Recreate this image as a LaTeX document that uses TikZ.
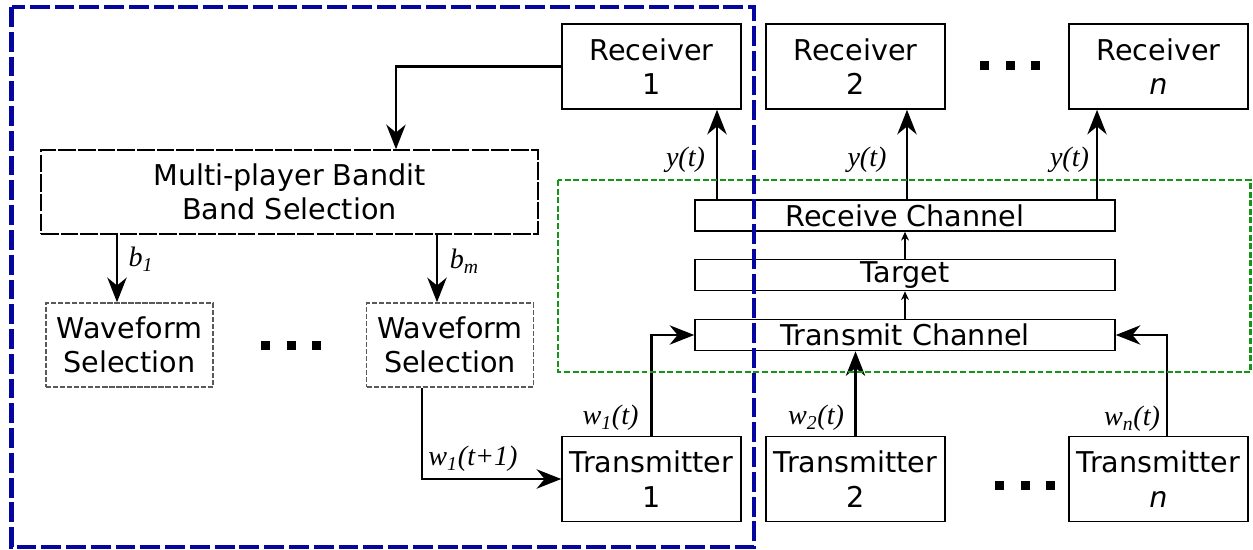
\documentclass[tikz,border=0pt]{standalone}
\usepackage{fontspec}
\setmainfont{DejaVu Sans}
\newfontfamily\lblfont{Liberation Serif}
\usepackage{tikz}
\usetikzlibrary{arrows.meta,positioning,calc}

\definecolor{regblue}{RGB}{5,5,160}
\definecolor{reggreen}{RGB}{20,150,20}

\tikzset{
  box/.style={draw=black, line width=0.9pt, minimum width=3.58cm, minimum height=1.7cm,
    align=center, inner sep=0pt, font=\fontsize{16.3}{19.5}\selectfont},
  chan/.style={box, minimum width=8.4cm, minimum height=0.62cm},
  selbox/.style={box, draw=black!65, dash pattern=on 3pt off 1pt, minimum width=3.34cm, minimum height=1.68cm},
  lbl/.style={inner sep=0pt, font=\lblfont\fontsize{16}{19}\selectfont\itshape},
  sig/.style={-{Stealth[length=14pt,width=11pt,inset=4.5pt]}, line width=1.2pt},
  fwd/.style={-{Stealth[length=5pt,width=4.5pt]}, line width=0.9pt},
}

\begin{document}
\begin{tikzpicture}[x=0.02cm,y=-0.02cm]
\useasboundingbox (0,0) rectangle (1253,550);

\node[box](R1) at (651.5,66.5) {Receiver\\1};
\node[box](R2) at (855.5,66.5) {Receiver\\2};
\node[box](Rn) at (1158.5,66.5) {Receiver\\\textit{n}};
\node[box](T1) at (651.5,479) {Transmitter\\1};
\node[box](T2) at (855.5,479) {Transmitter\\2};
\node[box](Tn) at (1158.5,479) {Transmitter\\\textit{n}};

\node[chan](RC) at (905,215.5) {Receive Channel};
\node[chan](TG) at (905,275) {Target};
\node[chan](TC) at (905,335) {Transmit Channel};

\node[box,dash pattern=on 10pt off 1.2pt,minimum width=9.94cm,minimum height=1.68cm](MPB) at (289.5,192) {Multi-player Bandit\\Band Selection};
\node[selbox](WF1) at (129.5,345) {Waveform\\Selection};
\node[selbox](WFm) at (450,345) {Waveform\\Selection};

% ellipses
\foreach \x in {265,291,316.5} \fill (\x-4.5,340.5) rectangle ++(9,9);
\foreach \x in {984.5,1010.5,1035.5} \fill (\x-4.5,61) rectangle ++(9,9);
\foreach \x in {999.5,1025.5,1050.5} \fill (\x-4.5,480.5) rectangle ++(9,9);

% connectors
\draw[sig] (R1.west) -| ([xshift=2.13cm]MPB.north);
\draw[sig] ([xshift=-0.25cm]WF1.north |- MPB.south) -- ([xshift=-0.25cm]WF1.north);
\draw[sig] ([xshift=-0.26cm]WFm.north |- MPB.south) -- ([xshift=-0.26cm]WFm.north);
\draw[sig] ([xshift=-0.56cm]WFm.south) |- (T1.west);
\draw[sig] (T1.north) |- (TC.west);
\draw[sig] (T2.north) -- (T2.north |- TC.south);
\draw[sig] ([xshift=0.17cm]Tn.north) |- (TC.east);
\draw[sig] ([xshift=1.31cm]R1.south |- RC.north) -- ([xshift=1.31cm]R1.south);
\draw[sig] ([xshift=1.03cm]R2.south |- RC.north) -- ([xshift=1.03cm]R2.south);
\draw[sig] ([xshift=-1.23cm]Rn.south |- RC.north) -- ([xshift=-1.23cm]Rn.south);
\draw[fwd] (TC.north) -- (TG.south);
\draw[fwd] (TG.north) -- (RC.south);

% labels
\node[lbl](ly1) at (685.5,160) {y(t)};
\node[lbl](ly2) at (867,160) {y(t)};
\node[lbl](lyn) at (1069.5,160) {y(t)};
\node[lbl](lw1) at (610.5,418) {w\textsubscript{1}(t)};
\node[lbl](lw2) at (816,418) {w\textsubscript{2}(t)};
\node[lbl](lwn) at (1132,419) {w\textsubscript{n}(t)};
\node[lbl](lwnext) at (473,459) {w\textsubscript{1}(t+1)};
\node[lbl](lb1) at (141,259) {b\textsubscript{1}};
\node[lbl](lbm) at (464.5,261) {b\textsubscript{m}};

% regions
\draw[reggreen,line width=1.5pt,dash pattern=on 3.4pt off 1.5pt] (558,180) rectangle (1250.5,372);
\draw[regblue,line width=2.8pt,dash pattern=on 11.3pt off 2.8pt] (11.5,7) rectangle (754,547);
\end{tikzpicture}
\end{document}
